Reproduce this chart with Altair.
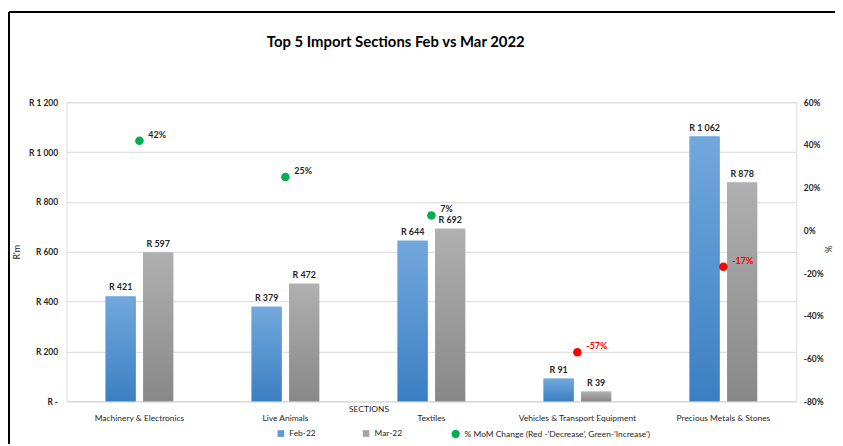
import altair as alt
import pandas as pd

sections = ["Machinery & Electronics", "Live Animals", "Textiles",
            "Vehicles & Transport Equipment", "Precious Metals & Stones"]
series = ["Feb-22", "Mar-22"]
feb_values = [421, 379, 644, 91, 1062]
mar_values = [597, 472, 692, 39, 878]
mom_change = [42, 25, 7, -57, -17]
left_ticks = [0, 200, 400, 600, 800, 1000, 1200]
right_ticks = [-80, -60, -40, -20, 0, 20, 40, 60]

POS_NAME = "% MoM Change (Red -'Decrease', Green-'Increase')"
FONT = "Lato"


def rlabel(v):
    return "R " + f"{v:,}".replace(",", " ")


bar_rows = []
for s, f, m in zip(sections, feb_values, mar_values):
    bar_rows.append({"section": s, "series": series[0], "value": f, "label": rlabel(f)})
    bar_rows.append({"section": s, "series": series[1], "value": m, "label": rlabel(m)})
bars_df = pd.DataFrame(bar_rows)

dots_df = pd.DataFrame({
    "section": sections,
    "pct": mom_change,
    "kind": [POS_NAME if p >= 0 else "Decrease" for p in mom_change],
    "label": [f"{p}%" for p in mom_change],
})

x_enc = alt.X("section:N", sort=sections,
              scale=alt.Scale(paddingInner=0.537, paddingOuter=0.2685),
              axis=alt.Axis(title="SECTIONS", labelAngle=0, labelPadding=12,
                            domain=True, domainColor="#d9d9d9", ticks=False,
                            labelFont=FONT, labelFontSize=8.5, labelColor="#262626",
                            titleFont=FONT, titleFontSize=8.5, titleFontWeight="normal",
                            titleColor="#262626", titleX=305, titleY=3,
                            titleBaseline="top"))
xoff = alt.XOffset("series:N", sort=series,
                   scale=alt.Scale(paddingInner=0.2, paddingOuter=0))

y_bar = alt.Y("value:Q", scale=alt.Scale(domain=[0, 1200], nice=False),
              axis=alt.Axis(values=left_ticks, title="R'm", grid=True,
                            gridColor="#d9d9d9", domain=False, ticks=False,
                            labelPadding=9, labelFont=FONT, labelFontSize=8.5,
                            labelColor="#262626", labelFontWeight="bold",
                            labelExpr="datum.value == 0 ? 'R -' : 'R ' + replace(format(datum.value, ','), ',', ' ')",
                            titleFont=FONT, titleFontSize=9, titleFontWeight="normal",
                            titleColor="#262626", titleX=-45, titleY=151,
                            titleAngle=-90))

grad_blue = {"gradient": "linear", "x1": 0, "y1": 0, "x2": 0, "y2": 1,
             "stops": [{"offset": 0, "color": "#72a8dc"},
                       {"offset": 1, "color": "#3b7fc3"}]}
grad_gray = {"gradient": "linear", "x1": 0, "y1": 0, "x2": 0, "y2": 1,
             "stops": [{"offset": 0, "color": "#b0b0b0"},
                       {"offset": 1, "color": "#888888"}]}

bars = alt.Chart(bars_df).mark_bar().encode(
    x=x_enc, xOffset=xoff, y=y_bar,
    color=alt.Color("series:N", sort=series,
                    scale=alt.Scale(domain=series, range=["#5b9bd5", "#a5a5a5"]),
                    legend=alt.Legend(title=None, orient="none", direction="horizontal",
                                      legendX=212, legendY=330, symbolType="square",
                                      symbolSize=45, columnPadding=46,
                                      labelFont=FONT, labelFontSize=8.5,
                                      labelColor="#262626")),
)
bars_grad = alt.Chart(bars_df).mark_bar().encode(
    x=alt.X("section:N", sort=sections), xOffset=xoff, y=alt.Y("value:Q"),
    fill=alt.condition(alt.datum.series == "Feb-22", alt.value(grad_blue), alt.value(grad_gray)),
)
bar_text = alt.Chart(bars_df).mark_text(
    baseline="bottom", dy=-4, font=FONT, fontSize=9, fontWeight="bold", color="#262626"
).encode(x=alt.X("section:N", sort=sections), xOffset=xoff, y=alt.Y("value:Q"),
         text="label:N")

bar_layer = alt.layer(bars, bars_grad, bar_text)

y_pct = alt.Y("pct:Q", scale=alt.Scale(domain=[-80, 60], nice=False),
              axis=alt.Axis(orient="right", values=right_ticks, grid=False,
                            domain=False, ticks=False, labelPadding=7,
                            labelFont=FONT, labelFontSize=8.5, labelColor="#262626",
                            labelFontWeight="bold",
                            labelExpr="datum.value + '%'", title="%",
                            titleFont=FONT, titleFontSize=9, titleFontWeight="normal",
                            titleColor="#262626", titleX=26, titleY=148,
                            titleAngle=90))

dots = alt.Chart(dots_df).mark_point(filled=True, shape="circle", size=75, opacity=1).encode(
    x=alt.X("section:N", sort=sections), y=y_pct,
    fill=alt.Fill("kind:N", scale=alt.Scale(domain=[POS_NAME, "Decrease"],
                                            range=["#00b050", "#ff0000"]),
                  legend=alt.Legend(values=[POS_NAME], title=None, orient="none",
                                    legendX=388, legendY=330, symbolType="circle",
                                    symbolSize=70, labelFont=FONT, labelFontSize=8.5,
                                    labelColor="#262626", labelLimit=400)),
)
dot_text = alt.Chart(dots_df).mark_text(
    align="left", dx=9, dy=-6, font=FONT, fontSize=9, fontWeight="bold"
).encode(
    x=alt.X("section:N", sort=sections), y=alt.Y("pct:Q"), text="label:N",
    color=alt.condition(alt.datum.pct < 0, alt.value("#ff0000"), alt.value("#262626")),
)
dot_layer = alt.layer(dots, dot_text)

frame_data = alt.Data(values=[{"k": 1}])
top_line = alt.Chart(frame_data).mark_rule(color="#000000", strokeWidth=2).encode(
    x=alt.value(-58), x2=alt.value(790), y=alt.value(-91))
left_line = alt.Chart(frame_data).mark_rule(color="#000000", strokeWidth=2).encode(
    x=alt.value(-58), y=alt.value(-91), y2=alt.value(345))

chart = alt.layer(bar_layer, dot_layer, top_line, left_line).resolve_scale(
    y="independent"
).properties(
    width=737, height=302,
    autosize=alt.AutoSizeParams(type="none"),
    padding={"left": 59, "top": 93, "right": 39, "bottom": 43},
    title=alt.TitleParams("Top 5 Import Sections Feb vs Mar 2022", anchor="middle",
                          frame="group", offset=-39, dx=-36, font=FONT, fontSize=15,
                          fontWeight="bold", color="#000000"),
).configure_view(stroke=None).configure(background="white")

chart.save("out.html", embed_options={"renderer": "svg", "actions": False})
